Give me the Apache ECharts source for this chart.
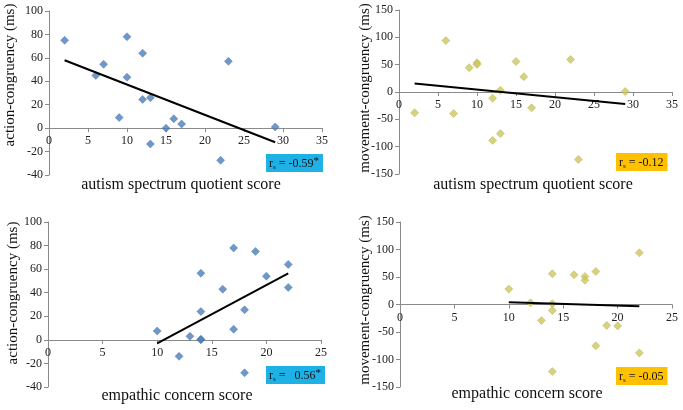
<!DOCTYPE html>
<html>
<head>
<meta charset="utf-8">
<script src="https://cdn.jsdelivr.net/npm/echarts@6/dist/echarts.min.js"></script>
<style>
  html, body { margin: 0; padding: 0; background: #fff; }
  #chart { width: 683px; height: 410px; }
</style>
</head>
<body>
<div id="chart"></div>
<script>
// autism spectrum quotient panels
const aqScore = [2, 6, 7, 9, 10, 10, 12, 12, 13, 13, 15, 16, 17, 22, 23, 29];
const aqAction = [75, 45, 54.5, 9, 78, 43.5, 64, 24.5, 26, -13.5, 0, 8, 3.5, -27.5, 57, 1];
const aqMovement = [-38, 94, -39.5, 44.5, 53.5, 50.5, -11.5, -88.5, 3, -76, 56, 28, -29, 59.5, -123.5, 1];

// empathic concern panels
const ecScore = [10, 12, 13, 14, 14, 14, 14, 16, 17, 17, 18, 18, 19, 20, 22, 22];
const ecAction = [7.5, -14, 3, 56.5, 24, 0.5, 0, 43, 78, 9, 25.5, -28, 75, 54, 64, 44.5];
const ecMovement = [28, 3, -29, 56, 1.5, -11, -122, 54, 51, 44, 60, -75, -38, -39, 94, -88];

// trend line end points (x, y)
const aqTrendX = [2, 29];
const aqActionTrend = [58, -12];
const aqMovementTrend = [15.5, -22];
const ecTrendX = [10, 22];
const ecActionTrend = [-3, 56.5];
const ecMovementTrend = [4, -3];

// tick settings
const aqTicks = { min: 0, max: 35, interval: 5 };
const ecTicks = { min: 0, max: 25, interval: 5 };
const actionTicks = { min: -40, max: 100, interval: 20 };
const movementTicks = { min: -150, max: 150, interval: 50 };

const rLabels = ['-0.59', '-0.12', '  0.56', '-0.05'];
const rStars = ['*', '', '*', ''];

const FONT = 'Liberation Serif';
const AXIS_COLOR = '#8a8a8a';
const BLUE = '#4a7ebb';
const OLIVE = '#cdc75a';

const grids = [
  { left: 49, top: 11, width: 273, height: 164 },
  { left: 399, top: 10, width: 273, height: 164 },
  { left: 48, top: 222, width: 273, height: 165 },
  { left: 400, top: 222, width: 272, height: 165 }
];
const yTicks = [actionTicks, movementTicks, actionTicks, movementTicks];

const pair = (xs, ys) => xs.map((x, i) => [x, ys[i]]);

// x axis sits on y = 0 (Excel style), move it up from the grid bottom
function xAxis(idx, t) {
  const yt = yTicks[idx];
  const lift = grids[idx].height * (0 - yt.min) / (yt.max - yt.min);
  return {
    type: 'value', gridIndex: idx, min: t.min, max: t.max, interval: t.interval,
    offset: -lift,
    axisLine: { onZero: false, lineStyle: { color: AXIS_COLOR } },
    axisTick: { length: 4, lineStyle: { color: AXIS_COLOR } },
    axisLabel: { fontFamily: FONT, fontSize: 12, color: '#222', margin: 7 },
    splitLine: { show: false }
  };
}
function yAxis(idx, t) {
  return {
    type: 'value', gridIndex: idx, min: t.min, max: t.max, interval: t.interval,
    axisLine: { show: true, onZero: false, lineStyle: { color: AXIS_COLOR } },
    axisTick: { show: true, length: 4, lineStyle: { color: AXIS_COLOR } },
    axisLabel: { fontFamily: FONT, fontSize: 12, color: '#222', margin: 6 },
    splitLine: { show: false }
  };
}
function dots(idx, xs, ys, color) {
  return {
    type: 'scatter', xAxisIndex: idx, yAxisIndex: idx, data: pair(xs, ys),
    symbol: 'diamond', symbolSize: 8,
    itemStyle: { color: color, borderColor: color === BLUE ? '#3c6aa3' : '#aaa544', borderWidth: 0.5 },
    z: 3
  };
}
function trend(idx, xs, ys) {
  return {
    type: 'line', xAxisIndex: idx, yAxisIndex: idx, data: pair(xs, ys),
    symbol: 'none', lineStyle: { color: '#000', width: 2 }, z: 4
  };
}
function plainText(x, y, text, size, rotate) {
  return {
    type: 'text', x: x, y: y, rotation: rotate ? Math.PI / 2 : 0,
    style: { text: text, font: size + 'px "' + FONT + '"', fill: '#111', align: 'center', verticalAlign: 'middle' }
  };
}
function rBox(x, y, i, bg) {
  return {
    type: 'text', x: x, y: y,
    style: {
      text: '{r|r}{s|s}{v| = ' + rLabels[i] + '}{a|' + rStars[i] + '}',
      backgroundColor: bg, padding: [2, 4, 1, 3],
      rich: {
        r: { fontFamily: FONT, fontSize: 12, fill: '#111' },
        s: { fontFamily: FONT, fontSize: 7, fill: '#111', verticalAlign: 'bottom', padding: [5, 0, 0, 0] },
        v: { fontFamily: FONT, fontSize: 12, fill: '#111', whiteSpace: 'pre' },
        a: { fontFamily: FONT, fontSize: 11, fill: '#111', verticalAlign: 'top', padding: [0, 0, 4, 0] }
      }
    }
  };
}

const chart = echarts.init(document.getElementById('chart'), null, { renderer: 'canvas' });
chart.setOption({
  animation: false,
  backgroundColor: '#fff',
  grid: grids,
  xAxis: [xAxis(0, aqTicks), xAxis(1, aqTicks), xAxis(2, ecTicks), xAxis(3, ecTicks)],
  yAxis: [yAxis(0, actionTicks), yAxis(1, movementTicks), yAxis(2, actionTicks), yAxis(3, movementTicks)],
  series: [
    dots(0, aqScore, aqAction, BLUE),
    trend(0, aqTrendX, aqActionTrend),
    dots(1, aqScore, aqMovement, OLIVE),
    trend(1, aqTrendX, aqMovementTrend),
    dots(2, ecScore, ecAction, BLUE),
    trend(2, ecTrendX, ecActionTrend),
    dots(3, ecScore, ecMovement, OLIVE),
    trend(3, ecTrendX, ecMovementTrend)
  ],
  graphic: [
    plainText(181, 185, 'autism spectrum quotient score', 16),
    plainText(533, 185, 'autism spectrum quotient score', 16),
    plainText(177, 396, 'empathic concern score', 16),
    plainText(527, 394, 'empathic concern score', 16),
    plainText(10, 75, 'action-congruency (ms)', 15, true),
    plainText(365, 88, 'movement-congruency (ms)', 15, true),
    plainText(13, 293, 'action-congruency (ms)', 15, true),
    plainText(365, 300, 'movement-congruency (ms)', 15, true),
    rBox(266, 154, 0, '#1eb1e6'),
    rBox(616, 153, 1, '#ffc000'),
    rBox(266, 366, 2, '#1eb1e6'),
    rBox(616, 367, 3, '#ffc000')
  ]
});
</script>
</body>
</html>
